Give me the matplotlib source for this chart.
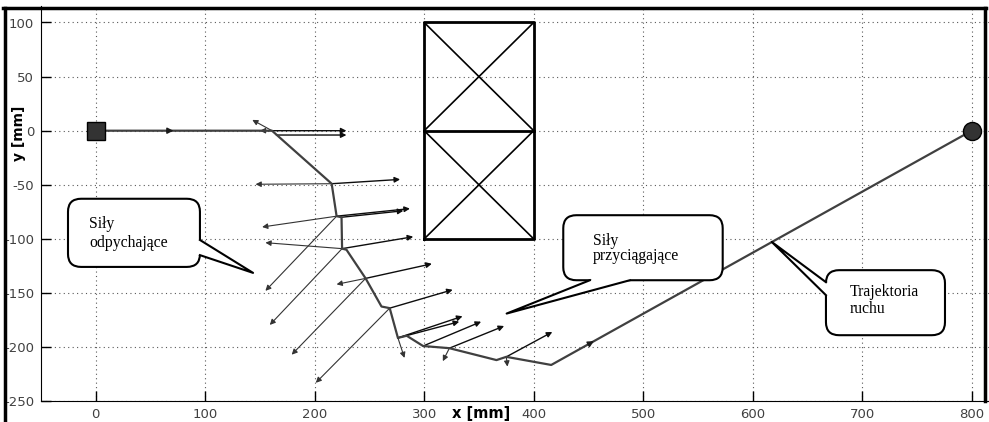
import matplotlib
matplotlib.use('Agg')
import matplotlib.pyplot as plt
from matplotlib.patches import FancyBboxPatch, Polygon
from matplotlib.lines import Line2D
import numpy as np

plt.rcParams['axes.unicode_minus'] = False

# trajektoria ruchu [mm]
traj_x = [0, 161, 215.5, 220, 224.5, 225, 229, 246.5, 261, 268.5, 276, 284, 299, 323, 366, 375, 416, 800]
traj_y = [0, 0, -49, -79, -80, -109, -110, -136.5, -162.5, -164, -191.5, -189.5, -199, -201, -212, -209, -216.5, 0]

# punkt startowy i cel
start_xy = (0, 0)
goal_xy = (800, 0)

# strzalki kierunku ruchu (punkt, indeks odcinka)
dir_x = [71, 455]
dir_y = [0, -194.5]
dir_seg = [0, 16]

# sily odpychajace
rep_x0 = [161, 161, 215.5, 220, 225, 246.5, 220, 225, 246.5, 268.5, 276, 323, 375]
rep_y0 = [0, 0, -49, -79, -109, -136.5, -79, -109, -136.5, -164, -191.5, -201, -209]
rep_x1 = [143, 150, 146, 152, 155, 220, 155, 159, 179, 201, 282, 317, 376]
rep_y1 = [10, 0, -49.5, -89, -103.5, -142, -148, -179.5, -207, -233, -210, -213, -218]

# sily przyciagajace
att_x0 = [161, 165, 215.5, 220, 224.5, 225, 246.5, 268.5, 276, 276, 299, 323, 375]
att_y0 = [0, -4, -49, -79, -80, -109, -136.5, -164, -191.5, -191.5, -199, -201, -209]
att_x1 = [229, 229, 278, 287, 281, 290, 307, 326, 335, 332, 352, 373, 417]
att_y1 = [0, -4, -45, -72, -74, -98, -123, -147, -171.5, -176.5, -176.5, -180.5, -186]

# przeszkoda
obs_x = [300, 400]
obs_y = [-100, 0, 100]

# dymki z opisami
callout_lines = [["Siły", "odpychające"], ["Siły", "przyciągające"], ["Trajektoria", "ruchu"]]
callout_box = [(-25.3, -125.9, 95.2, -62.9), (427, -138.2, 572.6, -78.1), (666.9, -189, 775.6, -128.9)]
callout_base = [[(95.2, -101), (95.2, -115)], [(451.3, -138.2), (487.8, -138.2)], [(666.9, -140), (666.9, -152)]]
callout_tip = [(143.7, -131.4), (375.3, -169), (617.4, -102.8)]
callout_tx = [-6.1, 454.2, 688.8]
callout_ty = [[-90.1, -107.4], [-105.6, -119.7], [-152.9, -168.6]]

W, H = 989, 422
fig = plt.figure(figsize=(W / 100, H / 100), dpi=100)

# polozenie osi w pikselach
x_px0, sx = 95.7, 1.095
y_px0, sy = 130.7, 1.082
xlim = (-50, 820)
ylim = (-250, 115)
left = x_px0 + xlim[0] * sx
right = x_px0 + xlim[1] * sx
bottom = y_px0 - ylim[0] * sy
top = y_px0 - ylim[1] * sy
ax = fig.add_axes([left / W, 1 - bottom / H, (right - left) / W, (bottom - top) / H])
ax.set_xlim(*xlim)
ax.set_ylim(*ylim)
ax.set_xticks(range(0, 801, 100))
ax.set_yticks(range(-250, 101, 50))
ax.grid(True, ls=(0, (1, 3)), color='0.35', lw=0.8)
ax.tick_params(direction='in', length=7, width=1, labelcolor='0.25', labelsize=9.5, pad=5)
for lab in ax.get_xticklabels() + ax.get_yticklabels():
    lab.set_family(['Liberation Sans Narrow', 'DejaVu Sans'])
for s in ['top', 'right']:
    ax.spines[s].set_visible(False)
ax.set_axisbelow(True)

# przeszkoda
ax.plot([obs_x[0], obs_x[1], obs_x[1], obs_x[0], obs_x[0]],
        [obs_y[0], obs_y[0], obs_y[2], obs_y[2], obs_y[0]], color='k', lw=2, zorder=3)
ax.plot(obs_x, [obs_y[1], obs_y[1]], color='k', lw=2, zorder=3)
for i in range(2):
    ax.plot(obs_x, [obs_y[i], obs_y[i + 1]], color='k', lw=1.2, zorder=3)
    ax.plot(obs_x, [obs_y[i + 1], obs_y[i]], color='k', lw=1.2, zorder=3)

# sily
for i in range(len(rep_x0)):
    ax.annotate('', xy=(rep_x1[i], rep_y1[i]), xytext=(rep_x0[i], rep_y0[i]),
                arrowprops=dict(arrowstyle='-|>', lw=0.8, color='0.2', mutation_scale=8,
                                shrinkA=0, shrinkB=0), zorder=4)
for i in range(len(att_x0)):
    ax.annotate('', xy=(att_x1[i], att_y1[i]), xytext=(att_x0[i], att_y0[i]),
                arrowprops=dict(arrowstyle='-|>', lw=1.0, color='0.05', mutation_scale=8,
                                shrinkA=0, shrinkB=0), zorder=4)

# trajektoria
ax.plot(traj_x, traj_y, color='0.25', lw=1.6, zorder=5)
for i in range(len(dir_x)):
    k = dir_seg[i]
    dx = traj_x[k + 1] - traj_x[k]
    dy = traj_y[k + 1] - traj_y[k]
    n = np.hypot(dx, dy)
    ax.annotate('', xy=(dir_x[i], dir_y[i]), xytext=(dir_x[i] - 6 * dx / n, dir_y[i] - 6 * dy / n),
                arrowprops=dict(arrowstyle='-|>', lw=1.0, color='0.1', mutation_scale=9,
                                shrinkA=0, shrinkB=0), zorder=5)

ax.plot(*start_xy, marker='s', ms=12.5, mfc='0.2', mec='k', mew=1, zorder=6)
ax.plot(*goal_xy, marker='o', ms=13, mfc='0.2', mec='k', mew=1, zorder=6, clip_on=False)

# dymki
for i in range(len(callout_lines)):
    x0, y0, x1, y1 = callout_box[i]
    ax.add_patch(FancyBboxPatch((x0, y0), x1 - x0, y1 - y0,
                                boxstyle='round,pad=0,rounding_size=12',
                                fc='white', ec='k', lw=1.5, zorder=8))
    cx, cy = (x0 + x1) / 2, (y0 + y1) / 2
    b1, b2 = callout_base[i]
    tip = callout_tip[i]
    b1i = (b1[0] + (cx - b1[0]) * 0.06, b1[1] + (cy - b1[1]) * 0.06)
    b2i = (b2[0] + (cx - b2[0]) * 0.06, b2[1] + (cy - b2[1]) * 0.06)
    ax.add_patch(Polygon([b1, tip, b2, b2i, b1i], closed=True, fc='white', ec='none', zorder=9))
    ax.plot([b1[0], tip[0], b2[0]], [b1[1], tip[1], b2[1]], color='k', lw=1.5, zorder=10)
    for j, line in enumerate(callout_lines[i]):
        ax.text(callout_tx[i], callout_ty[i][j], line, family='Liberation Serif', fontsize=11.3,
                va='baseline', ha='left', zorder=11)

# opisy osi
fig.text(481.5 / W, 1 - 421 / H, 'x [mm]', fontsize=10.5, fontweight='bold', ha='center', va='bottom')
fig.text(19 / W, 1 - 133.5 / H, 'y [mm]', fontsize=10, fontweight='bold', ha='center', va='center',
         rotation=90)

# ramka
fig.add_artist(Line2D([4.5 / W, 4.5 / W], [0, 1 - 8 / H], transform=fig.transFigure, color='k', lw=2.5))
fig.add_artist(Line2D([3 / W, 986 / W], [1 - 8 / H, 1 - 8 / H], transform=fig.transFigure, color='k', lw=2.5))
fig.add_artist(Line2D([984.5 / W, 984.5 / W], [1 - 8 / H, 1 - bottom / H], transform=fig.transFigure,
                      color='k', lw=2.5))

fig.savefig('out.png', dpi=100)
